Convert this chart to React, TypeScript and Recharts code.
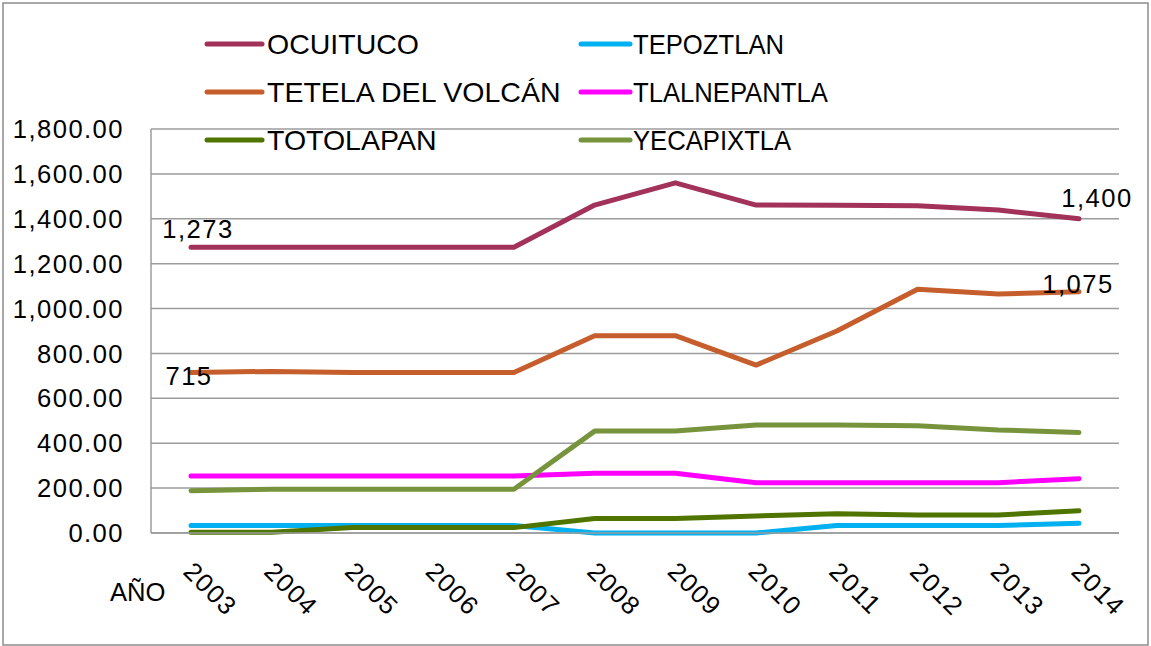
import React from 'react';
import { LineChart, Line, XAxis, YAxis, CartesianGrid, Legend, LabelList } from 'recharts';

const years = ['2003', '2004', '2005', '2006', '2007', '2008', '2009', '2010', '2011', '2012', '2013', '2014'];
const ocuituco = [1273, 1273, 1273, 1273, 1273, 1461, 1560, 1461, 1460, 1458, 1439, 1400];
const tepoztlan = [33, 33, 33, 33, 33, 0, 0, 0, 33, 33, 33, 43];
const tetela = [715, 720, 715, 715, 715, 879, 879, 748, 900, 1086, 1065, 1075];
const tlalnepantla = [254, 254, 254, 254, 254, 266, 266, 224, 224, 224, 224, 242];
const totolapan = [3, 3, 24, 24, 24, 65, 65, 76, 86, 80, 80, 99];
const yecapixtla = [188, 195, 195, 195, 195, 454, 454, 481, 481, 478, 459, 448];
const yTicks = [0, 200, 400, 600, 800, 1000, 1200, 1400, 1600, 1800];

const seriesNames = ['OCUITUCO', 'TEPOZTLAN', 'TETELA DEL VOLCÁN', 'TLALNEPANTLA', 'TOTOLAPAN', 'YECAPIXTLA'];
const seriesValues = [ocuituco, tepoztlan, tetela, tlalnepantla, totolapan, yecapixtla];
const seriesColors = ['#A3325A', '#00B0F0', '#C65D2C', '#FF00FF', '#4F7500', '#77943D'];
const xAxisTitle = 'AÑO';

const data = years.map((year, i) => {
  const row: Record<string, string | number> = { year };
  seriesNames.forEach((n, s) => {
    row[n] = seriesValues[s][i];
  });
  return row;
});

const FONT = '"Liberation Sans", Arial, sans-serif';
const TICK_SIZE = 25.6;
const SPACING = 1.45;

// label offsets (layout only) for series that carry data labels
const labelOffsets: Record<string, Record<number, [number, number]>> = {
  OCUITUCO: { 0: [7, -18], 11: [18, -21] },
  'TETELA DEL VOLCÁN': { 0: [-2, 3], 11: [-1, -8] },
};

const fmtTick = (v: number) =>
  v.toLocaleString('en-US', { minimumFractionDigits: 2, maximumFractionDigits: 2 });

const XTick = (props: any) => {
  const { x, y, payload } = props;
  const ax = x - 9;
  const ay = y + 40;
  return (
    <text
      x={ax}
      y={ay}
      transform={`rotate(45, ${ax}, ${ay})`}
      fontSize={TICK_SIZE}
      letterSpacing={SPACING}
      fontFamily={FONT}
      fill="#000"
      textAnchor="start"
    >
      {payload.value}
    </text>
  );
};

const makeLabel = (name: string) => (props: any) => {
  const { x, y, value, index } = props;
  const offs = labelOffsets[name];
  if (!offs || !offs[index]) return null;
  const [dx, dy] = offs[index];
  return (
    <text
      x={x + dx}
      y={y + dy}
      dy="0.36em"
      textAnchor="middle"
      fontSize={TICK_SIZE}
      letterSpacing={SPACING}
      fontFamily={FONT}
      fill="#000"
    >
      {Number(value).toLocaleString('en-US')}
    </text>
  );
};

const LegendContent = (props: any) => {
  const payload = (props.payload || []) as any[];
  const ordered = seriesNames
    .map((n) => payload.find((p) => p.value === n || p.dataKey === n))
    .filter(Boolean);
  const colX = [[207, 262, 267], [581, 630, 633]];
  const rowY = [44, 92, 140];
  return (
    <svg width={1151} height={170} style={{ overflow: 'visible', display: 'block' }}>
      {ordered.map((p: any, i: number) => {
        const c = i % 2;
        const r = Math.floor(i / 2);
        const [x1, x2, tx] = colX[c];
        const y = rowY[r];
        return (
          <g key={p.value}>
            <line x1={x1} x2={x2} y1={y} y2={y} stroke={p.color} strokeWidth={5} strokeLinecap="round" />
            <text
              x={tx}
              y={y}
              dy="0.36em"
              fontSize={28.5}
              fontFamily={FONT}
              fill="#000"
              transform={c === 1 ? `translate(${tx}, 0) scale(0.9, 1) translate(${-tx}, 0)` : undefined}
            >
              {p.value}
            </text>
          </g>
        );
      })}
    </svg>
  );
};

export default function App() {
  return (
    <div style={{ position: 'absolute', left: 0, top: 0, width: 1151, height: 646, background: '#fff' }}>
      <LineChart
        width={1151}
        height={646}
        data={data}
        margin={{ top: 129, right: 32, left: 0, bottom: 0 }}
      >
        <CartesianGrid horizontal vertical={false} stroke="#9c9c9c" strokeWidth={1.5} />
        <XAxis
          dataKey="year"
          height={113}
          tickSize={0}
          tickMargin={0}
          tickLine={false}
          padding={{ left: 40, right: 40 }}
          axisLine={{ stroke: '#9c9c9c', strokeWidth: 1.5 }}
          tick={<XTick />}
          interval={0}
        />
        <YAxis
          width={151}
          domain={[0, 1800]}
          ticks={yTicks}
          tickFormatter={fmtTick}
          tickSize={0}
          tickMargin={27}
          tickLine={false}
          axisLine={{ stroke: '#9c9c9c', strokeWidth: 1.5 }}
          tick={{ fontSize: TICK_SIZE, fill: '#000', fontFamily: FONT, letterSpacing: SPACING }}
          interval={0}
        />
        <Legend
          layout="horizontal"
          verticalAlign="middle"
          align="center"
          content={<LegendContent />}
          wrapperStyle={{ left: 0, top: 0, width: 1151, height: 170, pointerEvents: 'none' }}
        />
        {seriesNames.map((n, s) => (
          <Line
            key={n}
            type="linear"
            dataKey={n}
            name={n}
            stroke={seriesColors[s]}
            strokeWidth={5}
            strokeLinecap="round"
            strokeLinejoin="round"
            dot={false}
            activeDot={false}
            isAnimationActive={false}
          >
            {labelOffsets[n] ? <LabelList dataKey={n} content={makeLabel(n)} /> : null}
          </Line>
        ))}
      </LineChart>
      <svg
        width={1151}
        height={646}
        style={{ position: 'absolute', left: 0, top: 0, pointerEvents: 'none' }}
      >
        <rect x={3} y={3} width={1145} height={642} fill="none" stroke="#8c8c8c" strokeWidth={1.5} />
        <text x={110} y={601} fontSize={TICK_SIZE} fontFamily={FONT} fill="#000">
          {xAxisTitle}
        </text>
      </svg>
    </div>
  );
}
